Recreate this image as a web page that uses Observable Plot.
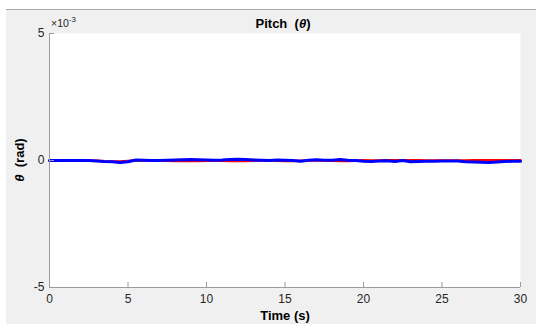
<!DOCTYPE html>
<html>
<head>
<meta charset="utf-8">
<script src="https://cdn.jsdelivr.net/npm/d3@7"></script>
<script src="https://cdn.jsdelivr.net/npm/@observablehq/plot@0.6"></script>
<style>
  html, body { margin: 0; padding: 0; background: #ffffff; }
  #wrap { position: relative; width: 536px; height: 324px; overflow: hidden; }
  #bg { position: absolute; left: 6px; top: 9px; right: 0; bottom: 0; background: #f0f0f0; border-top: 1px solid #a8a8a8; }
  #chart { position: absolute; left: 0; top: 0; }
</style>
</head>
<body>
<div id="wrap"><div id="bg"></div><div id="chart"></div></div>
<script>
// Time samples (s)
const time = [0,0.5,1,1.5,2,2.5,3,3.5,4,4.5,5,5.5,6,6.5,7,7.5,8,8.5,9,9.5,10,10.5,11,11.5,12,12.5,13,13.5,14,14.5,15,15.5,16,16.5,17,17.5,18,18.5,19,19.5,20,20.5,21,21.5,22,22.5,23,23.5,24,24.5,25,25.5,26,26.5,27,27.5,28,28.5,29,29.5,30];
// Pitch, in units of 1e-3 rad
const pitchBlue = [0,0,0,0,0,0,-0.02,-0.04,-0.05,-0.08,-0.05,0.02,0.01,0,0,0.01,0.02,0.03,0.04,0.03,0.02,0.01,0.02,0.04,0.05,0.04,0.02,0.01,0,0.02,0.01,0,-0.03,0.01,0.03,0.01,0.01,0.04,0.01,0,-0.03,-0.04,-0.02,-0.01,-0.04,0,-0.05,-0.04,-0.03,-0.03,-0.02,-0.02,-0.02,-0.05,-0.06,-0.07,-0.08,-0.06,-0.04,-0.03,-0.03];
const pitchRed = [0,0,0,0,0,0,-0.01,-0.03,-0.04,-0.04,-0.02,0,0,0,0,-0.01,-0.02,-0.02,-0.02,-0.02,-0.01,0,-0.01,-0.02,-0.02,-0.02,-0.01,0,0,-0.01,-0.02,-0.02,-0.01,0,0,0,-0.01,-0.02,-0.02,-0.01,0.01,0,0,0.01,0.01,0.01,0.01,0.01,0,0,0,0,0,0,0.01,0.01,0.01,0.01,0.01,0.01,0.01];
const xTicks = [0,5,10,15,20,25,30];
const yTicks = [-5,0,5];
const xDomain = [0,30];
const yDomain = [-5,5];

const blueData = time.map((t,i) => ({t, v: pitchBlue[i]}));
const redData = time.map((t,i) => ({t, v: pitchRed[i]}));

const axisColor = "#9a9a9a";
const textColor = "#262626";

const plot = Plot.plot({
  width: 536,
  height: 324,
  marginLeft: 49,
  marginRight: 16,
  marginTop: 33,
  marginBottom: 37,
  style: {background: "transparent", fontFamily: "'Liberation Sans', Arial, sans-serif", fontSize: "12px", color: textColor, overflow: "visible"},
  x: {domain: xDomain},
  y: {domain: yDomain},
  marks: [
    Plot.frame({fill: "white", stroke: null}),
    Plot.line(redData, {x: "t", y: "v", stroke: "#ff0000", strokeWidth: 2.5}),
    Plot.line(blueData, {x: "t", y: "v", stroke: "#0000ff", strokeWidth: 3}),
    Plot.ruleX([xDomain[0]], {stroke: axisColor, strokeWidth: 1}),
    Plot.ruleY([yDomain[0]], {stroke: axisColor, strokeWidth: 1}),
    Plot.axisX({ticks: xTicks, tickSize: -5, tickPadding: 12, tickFormat: d => String(d), label: null, stroke: axisColor, color: textColor, fontSize: 12}),
    Plot.axisY({ticks: yTicks, tickSize: -5, tickPadding: 10, tickFormat: d => String(d), label: null, stroke: axisColor, color: textColor, fontSize: 12})
  ]
});

document.getElementById("chart").appendChild(plot);

const svg = d3.select(plot);
const font = "'Liberation Sans', Arial, sans-serif";
// Title
const title = svg.append("text")
  .attr("x", 283).attr("y", 27.5)
  .attr("text-anchor", "middle")
  .attr("font-family", font).attr("font-size", 13).attr("font-weight", "bold").attr("fill", "#000")
  .style("white-space", "pre");
title.append("tspan").text("Pitch  (");
title.append("tspan").attr("font-style", "italic").text("θ");
title.append("tspan").text(")");
// X label
svg.append("text")
  .attr("x", 285).attr("y", 320)
  .attr("text-anchor", "middle")
  .attr("font-family", font).attr("font-size", 13).attr("font-weight", "bold").attr("fill", "#000")
  .text("Time (s)");
// Y label
const yl = svg.append("text")
  .attr("transform", "translate(23.5,160) rotate(-90)")
  .attr("text-anchor", "middle")
  .attr("font-family", font).attr("font-size", 13).attr("font-weight", "bold").attr("fill", "#000")
  .style("white-space", "pre");
yl.append("tspan").attr("font-style", "italic").text("θ");
yl.append("tspan").text("  (rad)");
// Exponent
const ex = svg.append("text")
  .attr("x", 51).attr("y", 27)
  .attr("text-anchor", "start")
  .attr("font-family", font).attr("font-size", 10.5).attr("fill", textColor);
ex.append("tspan").text("×10");
ex.append("tspan").attr("dy", -5).attr("font-size", 8).text("-3");
</script>
</body>
</html>
